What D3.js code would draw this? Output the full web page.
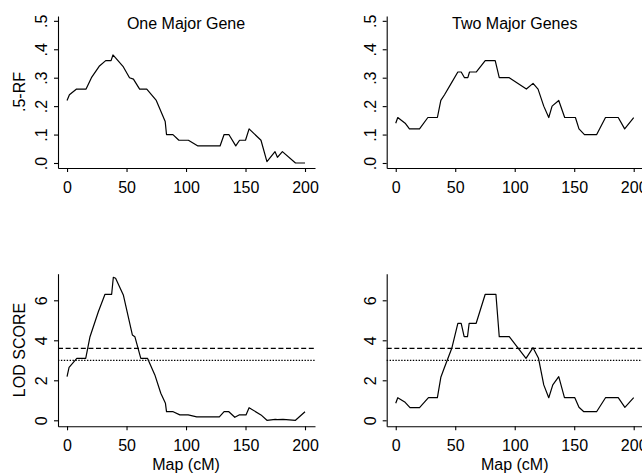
<!DOCTYPE html>
<html>
<head>
<meta charset="utf-8">
<script src="https://cdn.jsdelivr.net/npm/d3@7"></script>
<style>
  body { margin: 0; background: #fff; }
  text { font-family: "Liberation Sans", Arial, Helvetica, sans-serif; fill: #000; }
  .axis path, .axis line { stroke: #000; stroke-width: 1.1; }
  .axis text { font-size: 16px; }
</style>
</head>
<body>
<div id="graf"></div>
<script>
// posiciones del mapa (cM) y valores
const oneRfCM  = [0, 2, 8, 16, 20.5, 27, 32.5, 37, 38.6, 40.8, 47, 52.5, 55.8, 61, 67, 75, 82.5, 83.6, 89, 94, 102, 110, 128.6, 132, 136, 141.8, 145, 150, 153, 163, 168, 174.8, 176.8, 181, 192, 200]
const oneRfVal = [.22, .24, .26, .26, .30, .34, .36, .36, .38, .37, .34, .30, .295, .26, .26, .22, .146, .10, .10, .08, .08, .06, .06, .10, .10, .06, .08, .08, .12, .08, .005, .04, .02, .04, 0, 0]

const twoRfCM  = [0, 1.7, 7.9, 11.5, 20, 27, 35, 37.9, 41, 46.6, 52.2, 55, 57.8, 60.6, 62, 67.6, 75.2, 83.6, 87, 95.4, 109.8, 115.4, 119.6, 124.4, 128.6, 131.4, 137, 142, 151, 154, 158.6, 168.9, 176.3, 187, 192.4, 200]
const twoRfVal = [.14, .16, .14, .12, .12, .16, .16, .22, .24, .28, .32, .32, .30, .30, .32, .32, .36, .36, .30, .30, .26, .28, .26, .20, .16, .20, .22, .16, .16, .12, .10, .10, .16, .16, .12, .16]

const oneLodCM  = [0, 1.7, 8.2, 15.7, 19.3, 26.3, 31.9, 37.5, 38.9, 40.8, 47.3, 54.9, 57, 62, 67.6, 73.8, 78.8, 82.7, 83.6, 89.2, 94.8, 101.8, 109, 128, 132, 136, 141, 144.6, 150.4, 153, 163, 168, 175, 176.8, 181.5, 192, 200]
const oneLodVal = [2.18, 2.65, 3.1, 3.1, 4.18, 5.43, 6.3, 6.3, 7.15, 7.1, 6.27, 4.27, 4.18, 3.1, 3.1, 2.27, 1.35, 0.85, 0.43, 0.43, 0.27, 0.27, 0.17, 0.17, 0.43, 0.43, 0.15, 0.27, 0.27, 0.63, 0.27, 0, 0.05, 0.03, 0.05, 0, 0.43]

const twoLodCM  = [0, 1.7, 7.9, 12, 20, 27.5, 35, 37.9, 40.7, 47.1, 52.2, 55, 57.5, 60.3, 61.7, 67.6, 75.2, 84.2, 87, 95.4, 109.5, 115.4, 120, 124.4, 128.6, 132, 137, 141.8, 150.5, 154, 158.1, 168.8, 176.3, 187, 192.6, 200]
const twoLodVal = [0.85, 1.13, 0.9, 0.63, 0.63, 1.13, 1.13, 2.15, 2.6, 3.6, 4.85, 4.85, 4.18, 4.18, 4.85, 4.85, 6.3, 6.3, 4.18, 4.18, 3.1, 3.63, 3.1, 1.77, 1.13, 1.77, 2.18, 1.13, 1.13, 0.65, 0.43, 0.43, 1.13, 1.13, 0.65, 1.13]

const xTicks = [0, 50, 100, 150, 200]
const rfTicks = [0, .1, .2, .3, .4, .5]
const lodTicks = [0, 2, 4, 6]
const lodThresholds = [3.6, 3.0]   // discontinua, punteada

const svg = d3.select("#graf")
  .append("svg")
  .attr("width", 642)
  .attr("height", 474)

const drawPanel = (p) => {
  const x = d3.scaleLinear().domain([-7.6, 208.4]).range([p.left, p.left + 257])
  const y = d3.scaleLinear().domain(p.yDomain).range(p.yRange)

  // eje y
  const yAxis = svg.append("g")
    .classed("axis", true)
    .attr("transform", `translate(${p.left}, 0)`)
    .call(d3.axisLeft(y).tickValues(p.yTicks).tickSize(4).tickSizeOuter(0).tickFormat(p.fmt))
  yAxis.selectAll("text")
    .attr("x", null)
    .attr("dy", "0.35em")
    .attr("text-anchor", "middle")
    .attr("transform", "translate(-16.5, 0) rotate(-90)")

  // eje x
  svg.append("g")
    .classed("axis", true)
    .attr("transform", `translate(0, ${p.yRange[0]})`)
    .call(d3.axisBottom(x).tickValues(xTicks).tickSize(4).tickSizeOuter(0).tickPadding(9.4))

  // lineas de umbral
  if (p.thresholds) {
    svg.selectAll(null)
      .data(p.thresholds)
      .enter()
      .append("line")
      .attr("x1", p.left)
      .attr("x2", p.left + 257)
      .attr("y1", (d) => y(d))
      .attr("y2", (d) => y(d))
      .attr("stroke", "#000")
      .attr("stroke-width", (d, i) => i === 0 ? 1.3 : 1.3)
      .attr("stroke-dasharray", (d, i) => i === 0 ? "5,2.6" : "1.4,1.5")
  }

  const line = d3.line()
    .x((d, i) => x(p.cm[i]))
    .y((d) => y(d))

  svg.append("path")
    .datum(p.vals)
    .attr("d", line)
    .attr("fill", "none")
    .attr("stroke", "#000")
    .attr("stroke-width", 1.2)
    .attr("stroke-linejoin", "round")

  if (p.title) {
    svg.append("text")
      .attr("x", x(100))
      .attr("y", 28.5)
      .attr("text-anchor", "middle")
      .style("font-size", "16px")
      .text(p.title)
  }
  if (p.xLabel) {
    svg.append("text")
      .attr("x", x(100))
      .attr("y", 464.5)
      .attr("dy", "0.35em")
      .attr("text-anchor", "middle")
      .style("font-size", "16px")
      .text(p.xLabel)
  }
  if (p.yLabel) {
    svg.append("text")
      .attr("transform", `translate(19, ${(p.yRange[0] + p.yRange[1]) / 2}) rotate(-90)`)
      .attr("dy", "0.35em")
      .attr("text-anchor", "middle")
      .style("font-size", "16px")
      .text(p.yLabel)
  }
}

const rfFmt = (d) => d3.format(".1f")(d).replace("0.", ".")

drawPanel({ left: 58, cm: oneRfCM, vals: oneRfVal, yDomain: [-0.0176, 0.517], yRange: [168, 16],
  yTicks: rfTicks, fmt: rfFmt, title: "One Major Gene", yLabel: ".5-RF" })
drawPanel({ left: 386.7, cm: twoRfCM, vals: twoRfVal, yDomain: [-0.0176, 0.517], yRange: [168, 16],
  yTicks: rfTicks, fmt: rfFmt, title: "Two Major Genes" })
drawPanel({ left: 58, cm: oneLodCM, vals: oneLodVal, yDomain: [-0.3, 7.33], yRange: [426.3, 273.7],
  yTicks: lodTicks, fmt: d3.format("d"), thresholds: lodThresholds, xLabel: "Map (cM)", yLabel: "LOD SCORE" })
drawPanel({ left: 386.7, cm: twoLodCM, vals: twoLodVal, yDomain: [-0.3, 7.33], yRange: [426.3, 273.7],
  yTicks: lodTicks, fmt: d3.format("d"), thresholds: lodThresholds, xLabel: "Map (cM)" })
</script>
</body>
</html>
